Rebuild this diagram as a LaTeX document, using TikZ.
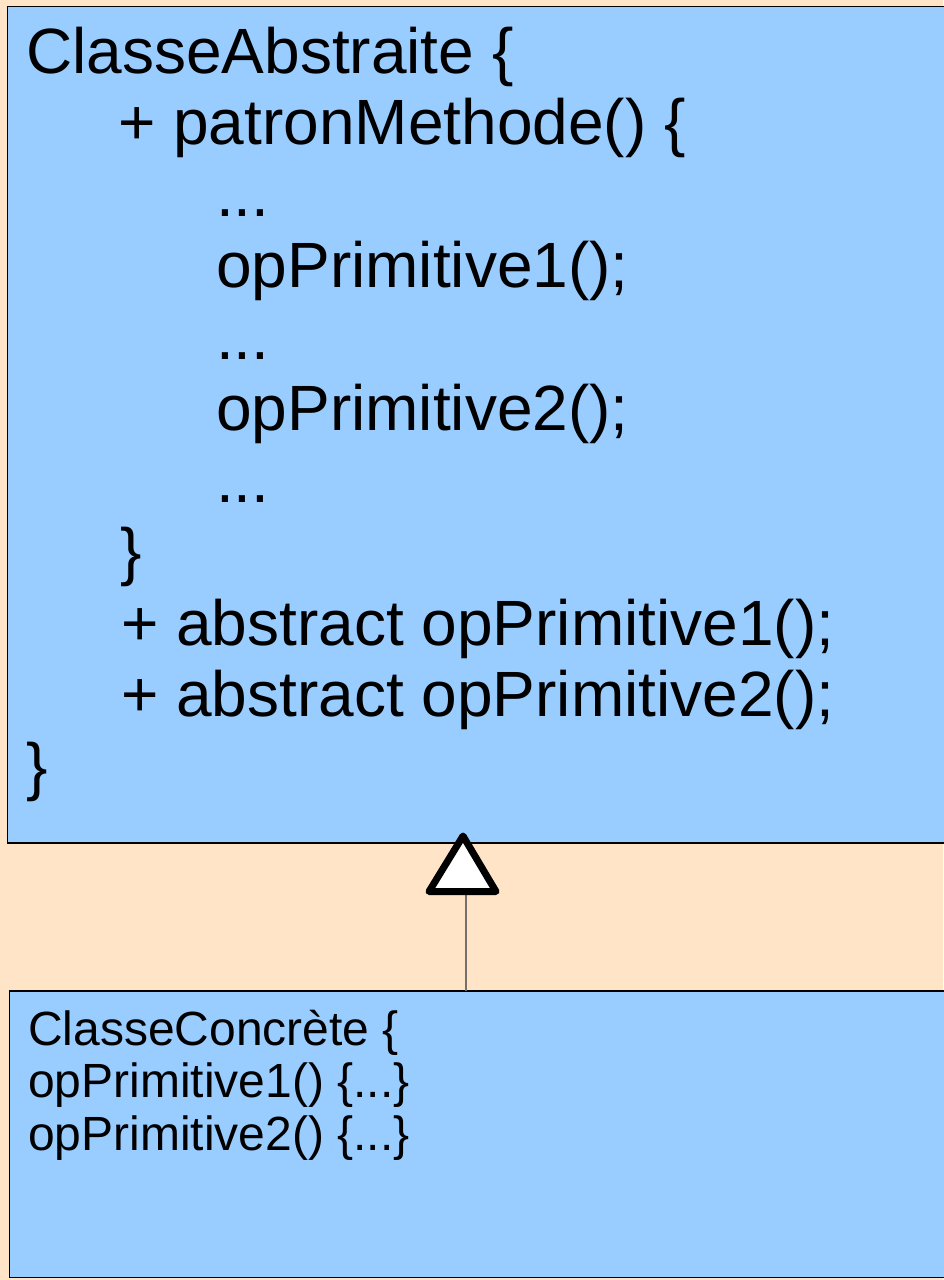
\documentclass[tikz,border=0pt]{standalone}
\usepackage{fontspec}
\setmainfont{Liberation Sans}
\definecolor{peach}{RGB}{255,228,200}
\definecolor{classblue}{RGB}{153,204,255}
\definecolor{linkgray}{RGB}{118,112,106}
\begin{document}
\begin{tikzpicture}[x=1pt,y=-1pt,
  classbox/.style={draw=black,line width=1.6pt,fill=classblue},
  bigcode/.style={anchor=base west,inner sep=0pt,font=\fontsize{64}{71.5}\selectfont},
  smallcode/.style={anchor=base west,inner sep=0pt,font=\fontsize{48}{52}\selectfont},
  inherit/.style={draw=black,line width=7pt,line join=round,fill=white},
  link/.style={draw=linkgray,line width=1.4pt}]
  % page
  \fill[peach] (0,0) rectangle (943,1280);
  \useasboundingbox (0,0) rectangle (943,1280);
  % class boxes
  \path[classbox] (7.5,6.5) rectangle (950,843);
  \path[classbox] (9.5,991) rectangle (950,1277.5);
  \coordinate (absbottom) at (466,843);
  \coordinate (concretetop) at (466,991);
  % abstract class body
  \node[bigcode] (a1) at (26,73) {ClasseAbstraite \{};
  \node[bigcode] (a2) at (118,144.5) {+ patronMethode() \{};
  \node[bigcode] (a3) at (216,216) {...};
  \node[bigcode] (a4) at (216,287.5) {opPrimitive1();};
  \node[bigcode] (a5) at (216,359) {...};
  \node[bigcode] (a6) at (216,430.5) {opPrimitive2();};
  \node[bigcode] (a7) at (216,502) {...};
  \node[bigcode] (a8) at (120,573.5) {\}};
  \node[bigcode] (a9) at (121,645) {+ abstract opPrimitive1();};
  \node[bigcode] (a10) at (121,716.5) {+ abstract opPrimitive2();};
  \node[bigcode] (a11) at (26,788) {\}};
  % concrete class body
  \node[smallcode] (c1) at (28,1045) {ClasseConcrète \{};
  \node[smallcode] (c2) at (28,1097.5) {opPrimitive1() \{...\}};
  \node[smallcode] (c3) at (28,1150) {opPrimitive2() \{...\}};
  % generalization
  \coordinate (tribase) at (466,891.5);
  \draw[link] (concretetop) -- (tribase);
  \path[inherit] (429,891.5) -- (463,836) -- (496,891.5) -- cycle;
\end{tikzpicture}
\end{document}
